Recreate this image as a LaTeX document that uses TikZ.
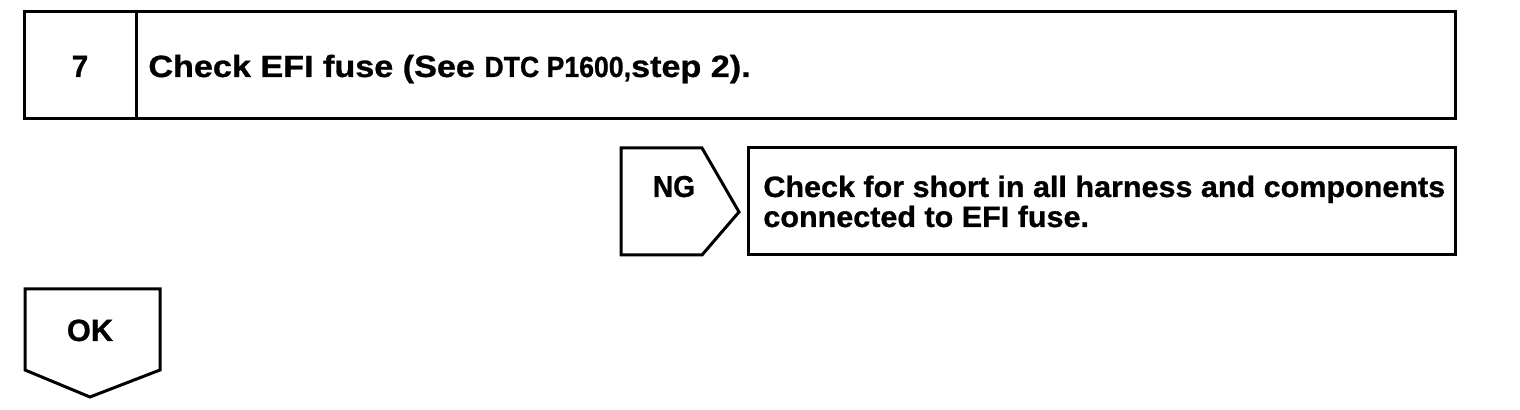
\documentclass[tikz,border=0pt]{standalone}
\usepackage{fontspec}
\setmainfont{Liberation Sans}[FakeBold=0.9]
\usepackage{graphicx}
\tikzset{
  outline/.style={draw=black, line width=1.5pt, line join=miter},
  lbl/.style={font=\bfseries\fontsize{14}{15}\selectfont, inner sep=0pt, anchor=base west},
  titlelbl/.style={font=\bfseries\fontsize{14.6}{15}\selectfont, inner sep=0pt, anchor=base west},
}
\newcommand{\narrowtxt}[1]{\scalebox{0.78}[0.95]{#1}}
\begin{document}
\begin{tikzpicture}[x=0.5pt,y=-0.5pt]
\useasboundingbox (0,0) rectangle (1520,410);
% top step box
\draw[outline] (24,12) rectangle (1455,119);
\draw[outline] (136,12) -- (136,119);
\node[lbl, anchor=base] (num) at (80,77) {\scalebox{1.05}[1.1]{7}};
\node[titlelbl] (title) at (148,77) {\scalebox{1.17}[1.05]{Check EFI fuse (See \narrowtxt{DTC P1600,}step 2).}};
% NG pentagon
\draw[outline] (621,148) -- (702,148) -- (739,212) -- (702,255) -- (621,255) -- cycle;
\node[lbl, anchor=base] (ng) at (674,197) {\scalebox{1}[1.08]{NG}};
% NG result box
\draw[outline] (748,148) rectangle (1455,255);
\node[lbl, align=left, anchor=base west] (res) at (763,227) {\scalebox{1.09}[1.05]{Check for short in all harness and components}\\\scalebox{1.09}[1.05]{connected to EFI fuse.}};
% OK pentagon
\draw[outline] (25,289) -- (160,289) -- (160,370) -- (90,397) -- (25,370) -- cycle;
\node[lbl, anchor=base] (ok) at (90,341) {\scalebox{1.1}[1.1]{OK}};
\end{tikzpicture}
\end{document}
